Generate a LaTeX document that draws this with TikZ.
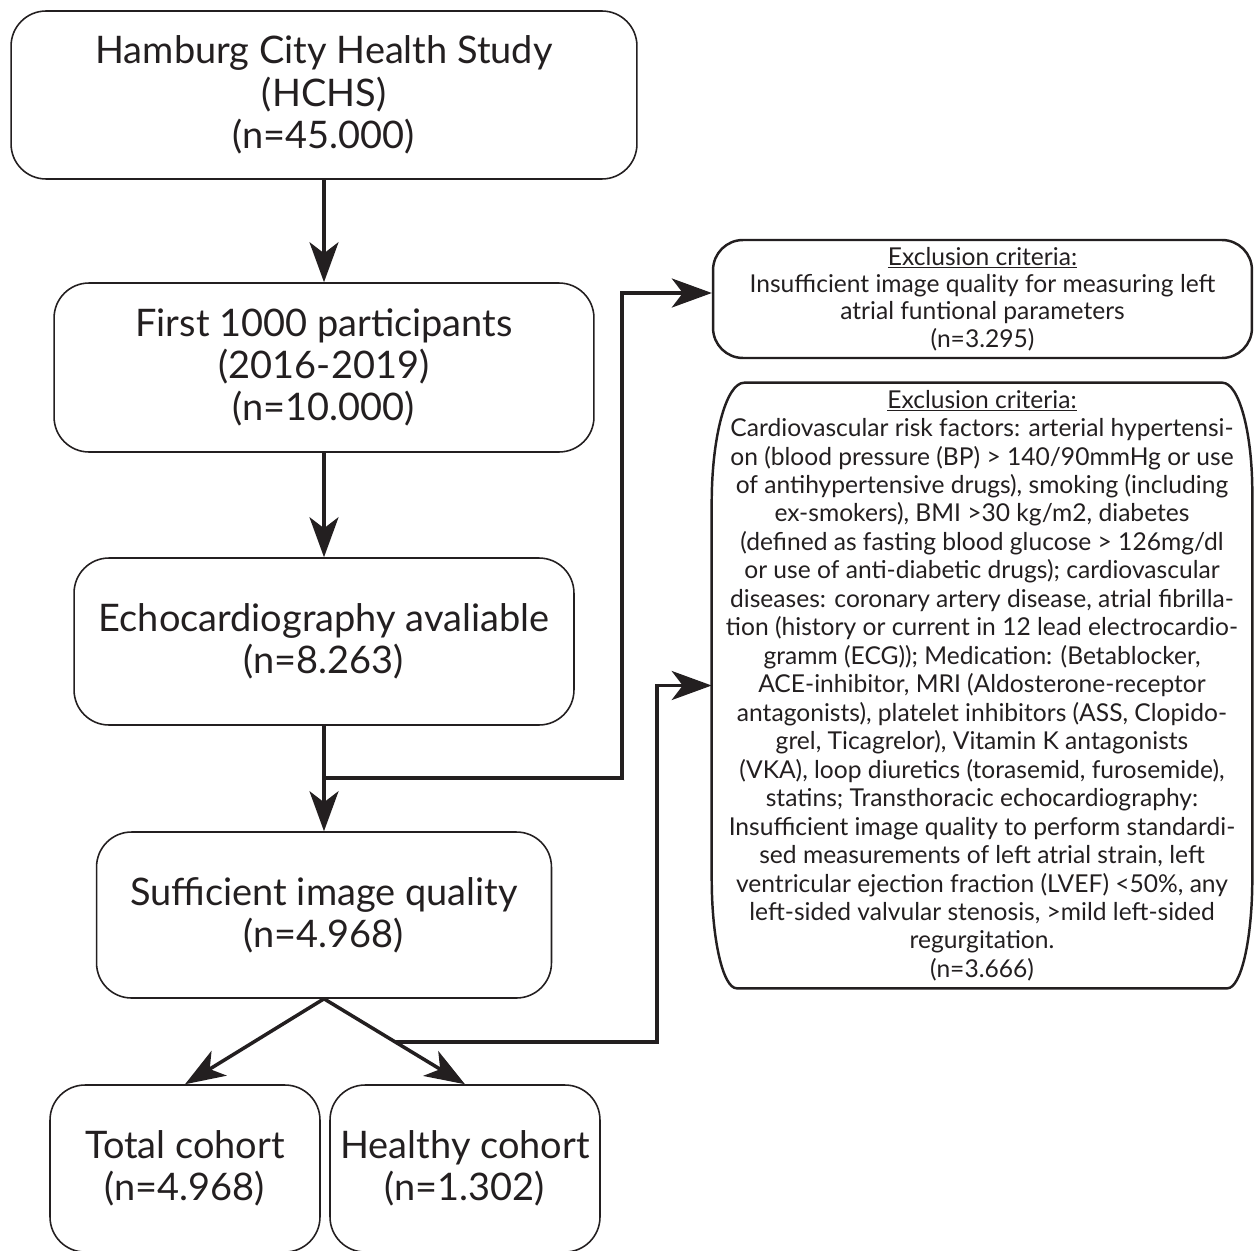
\documentclass[tikz,border=0pt]{standalone}
\usepackage{fontspec}
\setmainfont{Lato}
\usetikzlibrary{arrows.meta}
\definecolor{ink}{HTML}{231F20}
\tikzset{
	box/.style={draw=ink, line width=0.9pt, rounded corners=0.7cm, align=center, text=ink, inner sep=0pt, font=\fontsize{21.6}{24.1}\selectfont},
	exbox/.style={draw=ink, line width=1.4pt, rounded corners=0.6cm, align=center, text=ink, inner sep=0pt, font=\fontsize{14}{15.6}\selectfont},
	extext/.style={align=center, text=ink, inner sep=0pt, font=\fontsize{14}{16.2}\selectfont},
	arr/.style={draw=ink, line width=2pt, -{Stealth[length=0.8cm,width=0.58cm,inset=0.22cm]}},
}
\begin{document}
\begin{tikzpicture}[x=0.02cm, y=-0.02cm]
	\useasboundingbox (0,0) rectangle (1256,1250);
%	boxes at pixel centres
	\node[box, minimum width=12.52cm, minimum height=3.36cm] (hchs) at (324,95) {Hamburg City Health Study\\(HCHS)\\(n=45.000)};
	\node[box, minimum width=10.8cm, minimum height=3.38cm] (first) at (324,367.5) {First 1000 participants\\(2016-2019)\\(n=10.000)};
	\node[box, minimum width=10cm, minimum height=3.34cm] (echo) at (324,641.5) {Echocardiography avaliable\\(n=8.263)};
	\node[box, minimum width=9.1cm, minimum height=3.32cm] (suff) at (324,915) {Sufficient image quality\\(n=4.968)};
	\node[box, minimum width=5.4cm, minimum height=3.34cm] (total) at (185,1168.5) {Total cohort\\(n=4.968)};
	\node[box, minimum width=5.4cm, minimum height=3.34cm] (healthy) at (465,1168.5) {Healthy cohort\\(n=1.302)};

	\node[exbox, minimum width=10.78cm, minimum height=2.36cm] (qual) at (982.5,299) {\underline{Exclusion criteria:}\\Insufficient image quality for measuring left\\atrial funtional parameters\\(n=3.295)};
	\node[extext, minimum width=10.8cm, minimum height=12.1cm] (crit) at (982,685.5) {\underline{Exclusion criteria:}\\
		Cardiovascular risk factors: arterial hypertensi-\\
		on (blood pressure (BP) > 140/90mmHg or use\\
		of antihypertensive drugs), smoking (including\\
		ex-smokers), BMI >30 kg/m2, diabetes\\
		(defined as fasting blood glucose > 126mg/dl\\
		or use of anti-diabetic drugs); cardiovascular\\
		diseases: coronary artery disease, atrial fibrilla-\\
		tion (history or current in 12 lead electrocardio-\\
		gramm (ECG)); Medication: (Betablocker,\\
		ACE-inhibitor, MRI (Aldosterone-receptor\\
		antagonists), platelet inhibitors (ASS, Clopido-\\
		grel, Ticagrelor), Vitamin K antagonists\\
		(VKA), loop diuretics (torasemid, furosemide),\\
		statins; Transthoracic echocardiography:\\
		Insufficient image quality to perform standardi-\\
		sed measurements of left atrial strain, left\\
		ventricular ejection fraction (LVEF) <50\%, any\\
		left-sided valvular stenosis, >mild left-sided\\
		regurgitation.\\
		(n=3.666)};
	\draw[ink, line width=1.4pt] ([yshift=-2.4cm]crit.north west) arc[start angle=180, end angle=90, x radius=0.65cm, y radius=2.4cm]
		-- ([xshift=-0.6cm]crit.north east) arc[start angle=90, end angle=0, x radius=0.6cm, y radius=2.2cm]
		-- ([yshift=2.2cm]crit.south east) arc[start angle=0, end angle=-90, x radius=0.5cm, y radius=2.2cm]
		-- ([xshift=0.5cm]crit.south west) arc[start angle=270, end angle=180, x radius=0.5cm, y radius=2.2cm] -- cycle;

	\coordinate (j1) at (324,778);
	\coordinate (k1) at (622,778);
	\coordinate (j2) at (396,1042);
	\coordinate (k2) at (657,1042);

	\draw[arr] (hchs) -- (first);
	\draw[arr] (first) -- (echo);
	\draw[arr] (echo) -- (suff);
	\draw[arr] (suff.south) -- (total.north);
	\draw[arr] (suff.south) -- (healthy.north);
	\draw[arr] (j1) -- (k1) |- ([yshift=0.12cm]qual.west);
	\draw[arr] (j2) -- (k2) |- (crit.west);
\end{tikzpicture}
\end{document}
